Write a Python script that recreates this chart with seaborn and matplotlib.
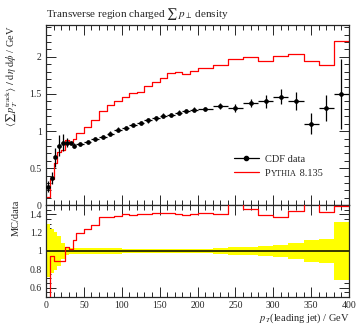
import numpy as np
import pandas as pd
import matplotlib
matplotlib.use("Agg")
import matplotlib.pyplot as plt
import seaborn as sns
from matplotlib.ticker import MultipleLocator
from matplotlib.lines import Line2D

# bin edges (GeV)
edges = [0, 5, 10, 15, 20, 25, 30, 35, 40, 50, 60, 70, 80, 90, 100, 110, 120, 130,
         140, 150, 160, 170, 180, 190, 200, 220, 240, 260, 280, 300, 320, 340, 360,
         380, 400]

# CDF data
data_val = [0.25, 0.37, 0.645, 0.805, 0.845, 0.845, 0.84, 0.805, 0.825, 0.85, 0.895,
            0.92, 0.965, 1.02, 1.045, 1.08, 1.11, 1.145, 1.17, 1.21, 1.215, 1.25, 1.27,
            1.29, 1.30, 1.335, 1.31, 1.375, 1.40, 1.465, 1.41, 1.10, 1.31, 1.50]
data_err = [0.075, 0.085, 0.13, 0.14, 0.12, 0.06, 0.03, 0.03, 0.03, 0.03, 0.03, 0.03,
            0.03, 0.03, 0.03, 0.03, 0.03, 0.03, 0.03, 0.03, 0.03, 0.03, 0.03, 0.03,
            0.03, 0.04, 0.05, 0.055, 0.085, 0.10, 0.12, 0.14, 0.17, 0.47]

# Pythia 8.135
mc_val = [0.11, 0.348, 0.574, 0.712, 0.75, 0.885, 0.855, 0.90, 0.98, 1.05, 1.15, 1.27,
          1.35, 1.40, 1.455, 1.51, 1.53, 1.61, 1.66, 1.71, 1.78, 1.795, 1.775, 1.815,
          1.845, 1.895, 1.97, 2.0, 1.945, 2.015, 2.035, 1.945, 1.89, 2.215]

# MC/data ratio and data uncertainty band
ratio_val = [0.45, 0.94, 0.894, 0.89, 0.89, 1.047, 1.018, 1.12, 1.193, 1.236, 1.283,
             1.367, 1.37, 1.38, 1.40, 1.39, 1.40, 1.41, 1.42, 1.42, 1.42, 1.41, 1.39,
             1.40, 1.418, 1.407, 1.52, 1.455, 1.393, 1.374, 1.436, 1.77, 1.43, 1.487]
band_half = [0.29, 0.236, 0.21, 0.165, 0.09, 0.045, 0.036, 0.036, 0.036, 0.036, 0.035,
             0.035, 0.033, 0.03, 0.027, 0.025, 0.024, 0.023, 0.023, 0.023, 0.023, 0.023,
             0.023, 0.023, 0.024, 0.03, 0.04, 0.042, 0.06, 0.07, 0.087, 0.12, 0.13, 0.315]

sns.set_style("ticks")
plt.rcParams['font.family'] = ['Liberation Serif', 'DejaVu Serif']
plt.rcParams['mathtext.fontset'] = 'stix'
plt.rcParams['xtick.direction'] = 'in'
plt.rcParams['ytick.direction'] = 'in'

edges = np.array(edges, dtype=float)
centers = (edges[:-1] + edges[1:]) / 2
halfw = (edges[1:] - edges[:-1]) / 2

df_data = pd.DataFrame({'x': centers, 'y': data_val})
df_mc = pd.DataFrame({'x': edges, 'y': mc_val + [mc_val[-1]]})
df_ratio = pd.DataFrame({'x': edges, 'y': ratio_val + [ratio_val[-1]]})

fig = plt.figure(figsize=(3.57, 3.24), dpi=100)
ax = fig.add_axes([0.1289, 0.3664, 0.8487, 0.5565])
ax2 = fig.add_axes([0.1289, 0.0843, 0.8487, 0.2821], sharex=ax)

# main panel
sns.lineplot(data=df_mc, x='x', y='y', ax=ax, color='red', lw=0.9,
             drawstyle='steps-post', legend=False, zorder=2)
ax.errorbar(centers, data_val, xerr=halfw, yerr=data_err, fmt='none',
            ecolor='black', elinewidth=0.9, zorder=3)
sns.scatterplot(data=df_data, x='x', y='y', ax=ax, color='black', s=9,
                edgecolor='black', linewidth=0.3, zorder=4, legend=False)

ax.set_xlim(0, 400)
ax.set_ylim(0, 2.43)
ax.yaxis.set_minor_locator(MultipleLocator(0.1))
ax.xaxis.set_major_locator(MultipleLocator(50))
ax.xaxis.set_minor_locator(MultipleLocator(10))
ax.set_yticks([0, 0.5, 1, 1.5, 2])
ax.set_yticklabels(['0', '0.5', '1', '1.5', '2'])
ax.tick_params(axis='x', labelbottom=False)
ax.set_xlabel('')
ax.set_ylabel(r'$\langle\sum\, p_T^{\mathrm{track}}\rangle\ /\ \mathrm{d}\eta\ \mathrm{d}\phi$ / GeV',
              loc='top', fontsize=7.5)
ax.set_title(r'Transverse region charged $\sum\, p_\perp$ density', loc='left',
             fontsize=8, pad=6)

# legend
h_data = Line2D([], [], color='black', lw=0.9, marker='o', markersize=3)
h_mc = Line2D([], [], color='red', lw=0.9)
leg = ax.legend([h_data, h_mc], ['CDF data', 'P'], loc='upper left',
                bbox_to_anchor=(0.603, 0.31), frameon=False, fontsize=7.5,
                handlelength=2.4, handletextpad=0.6, labelspacing=0.45, borderpad=0)

# ratio panel
ax2.fill_between(edges, np.r_[1 - np.array(band_half), 1 - band_half[-1]],
                 np.r_[1 + np.array(band_half), 1 + band_half[-1]],
                 step='post', color='#ffff00', lw=0, zorder=1)
ax2.axhline(1, color='black', lw=1.1, zorder=2)
sns.lineplot(data=df_ratio, x='x', y='y', ax=ax2, color='red', lw=0.9,
             drawstyle='steps-post', zorder=3, legend=False)
ax2.set_ylim(0.5, 1.5)
ax2.set_yticks([0.6, 0.8, 1.0, 1.2, 1.4])
ax2.set_yticklabels(['0.6', '0.8', '1', '1.2', '1.4'])
ax2.yaxis.set_minor_locator(MultipleLocator(0.05))
ax2.set_ylabel('MC/data', loc='top', fontsize=7.5)
ax2.set_xlabel(r'$p_T$(leading jet) / GeV', loc='right', fontsize=7.5, labelpad=1)

for a in (ax, ax2):
    a.tick_params(which='both', top=True, right=True, direction='in',
                  labelsize=7, width=0.7, pad=3)
    a.tick_params(which='major', length=7)
    a.tick_params(which='minor', length=3.5)
    for s in a.spines.values():
        s.set_linewidth(0.9)
    a.yaxis.set_label_coords(-0.085, 1.0)

ax2.yaxis.set_label_coords(-0.085, 1.06)

# small-caps "Pythia" in the legend: place the rest after the "P"
fig.canvas.draw()
r = fig.canvas.get_renderer()
bb = leg.get_texts()[1].get_window_extent(r)
inv = fig.transFigure.inverted()
x0, y0 = inv.transform((bb.x1, bb.y0))
t1 = fig.text(x0, y0, 'YTHIA', fontsize=6, va='bottom', ha='left')
fig.canvas.draw()
bb1 = t1.get_window_extent(r)
x1, _ = inv.transform((bb1.x1, bb1.y0))
fig.text(x1, y0, ' 8.135', fontsize=7.5, va='bottom', ha='left')

plt.savefig('out.png', dpi=100)
